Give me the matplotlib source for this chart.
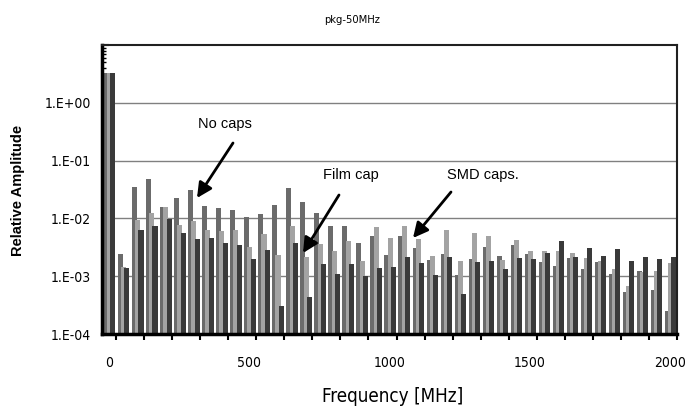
import matplotlib
matplotlib.use("Agg")
import matplotlib.pyplot as plt
import numpy as np
from matplotlib.ticker import FixedLocator, FixedFormatter, NullFormatter, LogLocator
from matplotlib import font_manager

# Frequency categories (MHz)
freqs = list(range(0, 2001, 50))
x_tick_labels = ["0", "500", "1000", "1500", "2000"]
y_tick_labels = ["1.E-04", "1.E-03", "1.E-02", "1.E-01", "1.E+00"]

# Series values
no_caps = [3.3, 2.35e-3, 0.035, 0.047, 0.0155, 0.022, 0.0306, 0.0163, 0.0148, 0.0139,
           0.0103, 0.0119, 0.017, 0.033, 0.0193, 0.0125, 7.2e-3, 7.2e-3, 3.6e-3, 4.9e-3,
           2.2e-3, 4.85e-3, 2.94e-3, 1.8e-3, 2.35e-3, 9.4e-4, 1.88e-3, 3.06e-3, 2.14e-3, 3.36e-3,
           2.35e-3, 1.63e-3, 1.43e-3, 1.98e-3, 1.22e-3, 1.69e-3, 1.0e-3, 4.36e-4, 1.11e-3, 4.66e-4,
           1.49e-4]
smd_caps = [3.3, 1.35e-3, 9.1e-3, 0.0125, 0.0155, 7.7e-3, 8.8e-3, 6.3e-3, 5.9e-3, 6.1e-3,
            3.1e-3, 5.3e-3, 2.26e-3, 7.2e-3, 2.06e-3, 3.5e-3, 2.6e-3, 4.0e-3, 1.74e-3, 6.9e-3,
            4.4e-3, 7.2e-3, 4.25e-3, 2.14e-3, 6.3e-3, 1.74e-3, 5.5e-3, 4.85e-3, 1.8e-3, 4.08e-3,
            2.68e-3, 2.68e-3, 2.68e-3, 2.45e-3, 1.98e-3, 1.74e-3, 1.25e-3, 5.75e-4, 1.07e-3, 1.11e-3,
            1.58e-3]
film_cap = [3.3, 1.26e-3, 6.1e-3, 7.2e-3, 9.6e-3, 5.4e-3, 4.3e-3, 4.5e-3, 3.7e-3, 3.4e-3,
            1.9e-3, 2.7e-3, 2.0e-4, 3.7e-3, 3.3e-4, 1.5e-3, 1.0e-3, 1.5e-3, 9.1e-4, 1.3e-3,
            1.35e-3, 2.06e-3, 1.58e-3, 9.7e-4, 2.06e-3, 4.0e-4, 1.65e-3, 1.74e-3, 1.25e-3, 1.98e-3,
            1.86e-3, 2.41e-3, 3.98e-3, 2.06e-3, 2.94e-3, 2.14e-3, 2.86e-3, 1.76e-3, 2.06e-3, 1.88e-3,
            2.06e-3]

# find a condensed font if available
cond_file = None
for f in font_manager.findSystemFonts():
    n = f.lower()
    if "dejavusanscondensed.ttf" in n or "liberationsansnarrow-regular" in n:
        cond_file = f
        break
if cond_file:
    cond = font_manager.FontProperties(fname=cond_file)
else:
    cond = font_manager.FontProperties(family="DejaVu Sans", stretch="condensed")

arial = ["Liberation Sans", "DejaVu Sans"]

fig = plt.figure(figsize=(6.91, 4.08), dpi=100)
ax = fig.add_axes([102/691, 1-334/408, (677-102)/691, (334-45)/408])

idx = np.arange(len(freqs))
bw = 0.36
off = 0.23
series = [(no_caps, "#6b6b6b"), (smd_caps, "#a3a3a3"), (film_cap, "#3a3a3a")]
for i, (vals, col) in enumerate(series):
    ax.bar(idx + 0.05 + (i - 1) * off, vals, width=bw, bottom=1e-4, color=col,
           edgecolor="none", zorder=3 + i)

ax.set_yscale("log")
ax.set_ylim(1e-4, 10)
ax.set_xlim(-0.5, len(freqs) - 0.5)

for y in [1e-3, 1e-2, 1e-1, 1e0]:
    ax.axhline(y, color="#808080", lw=1.0, zorder=1)

ax.yaxis.set_major_locator(FixedLocator([1e-4, 1e-3, 1e-2, 1e-1, 1e0, 1e1]))
ax.yaxis.set_major_formatter(FixedFormatter(y_tick_labels + [""]))
ax.yaxis.set_minor_locator(LogLocator(base=10, subs=np.arange(2, 10)))
ax.yaxis.set_minor_formatter(NullFormatter())
ax.tick_params(axis="y", which="major", direction="in", length=5, width=1.5, pad=8)
ax.tick_params(axis="y", which="minor", direction="in", length=3, width=1)

ax.xaxis.set_major_locator(FixedLocator([0, 10, 20, 30, 40]))
ax.xaxis.set_major_formatter(FixedFormatter(x_tick_labels))
ax.xaxis.set_minor_locator(FixedLocator(np.arange(0.5, 41, 2)))
ax.tick_params(axis="x", which="major", length=0, pad=16)
ax.tick_params(axis="x", which="minor", direction="out", length=4, width=1.5)

for lbl in ax.get_xticklabels() + ax.get_yticklabels():
    lbl.set_fontproperties(cond)
    lbl.set_fontsize(10)

for s in ["top", "right"]:
    ax.spines[s].set_linewidth(1.5)
    ax.spines[s].set_color("#202020")
for s in ["left", "bottom"]:
    ax.spines[s].set_linewidth(2.5)
    ax.spines[s].set_color("black")
for s in ax.spines.values():
    s.set_zorder(10)

t = fig.text(352/691, 1-20/408, "pkg-50MHz", ha="center", va="center", fontproperties=cond)
t.set_fontsize(8)
fig.text(18/691, 1-190/408, "Relative Amplitude", ha="center", va="center", rotation=90,
         family=arial, fontsize=10.5, fontweight="bold")
t = fig.text(393/691, 1-396/408, "Frequency [MHz]", ha="center", va="center", fontproperties=cond)
t.set_fontsize(13.5)

def ann(text, txy, axy, hxy):
    fig.text(txy[0]/691, 1-txy[1]/408, text, ha="center", va="center", family=arial, fontsize=10.5)
    ax.annotate("", xy=(hxy[0]/691, 1-hxy[1]/408), xycoords="figure fraction",
                xytext=(axy[0]/691, 1-axy[1]/408), textcoords="figure fraction",
                arrowprops=dict(arrowstyle="-|>,head_length=0.9,head_width=0.45", color="black",
                                lw=2, shrinkA=0, shrinkB=0), zorder=20)

ann("No caps", (225, 124), (233, 143), (197, 198))
ann("Film cap", (351, 175), (339, 195), (303, 253))
ann("SMD caps.", (483, 175), (451, 192), (413, 238))

fig.savefig("out.png", dpi=100)
